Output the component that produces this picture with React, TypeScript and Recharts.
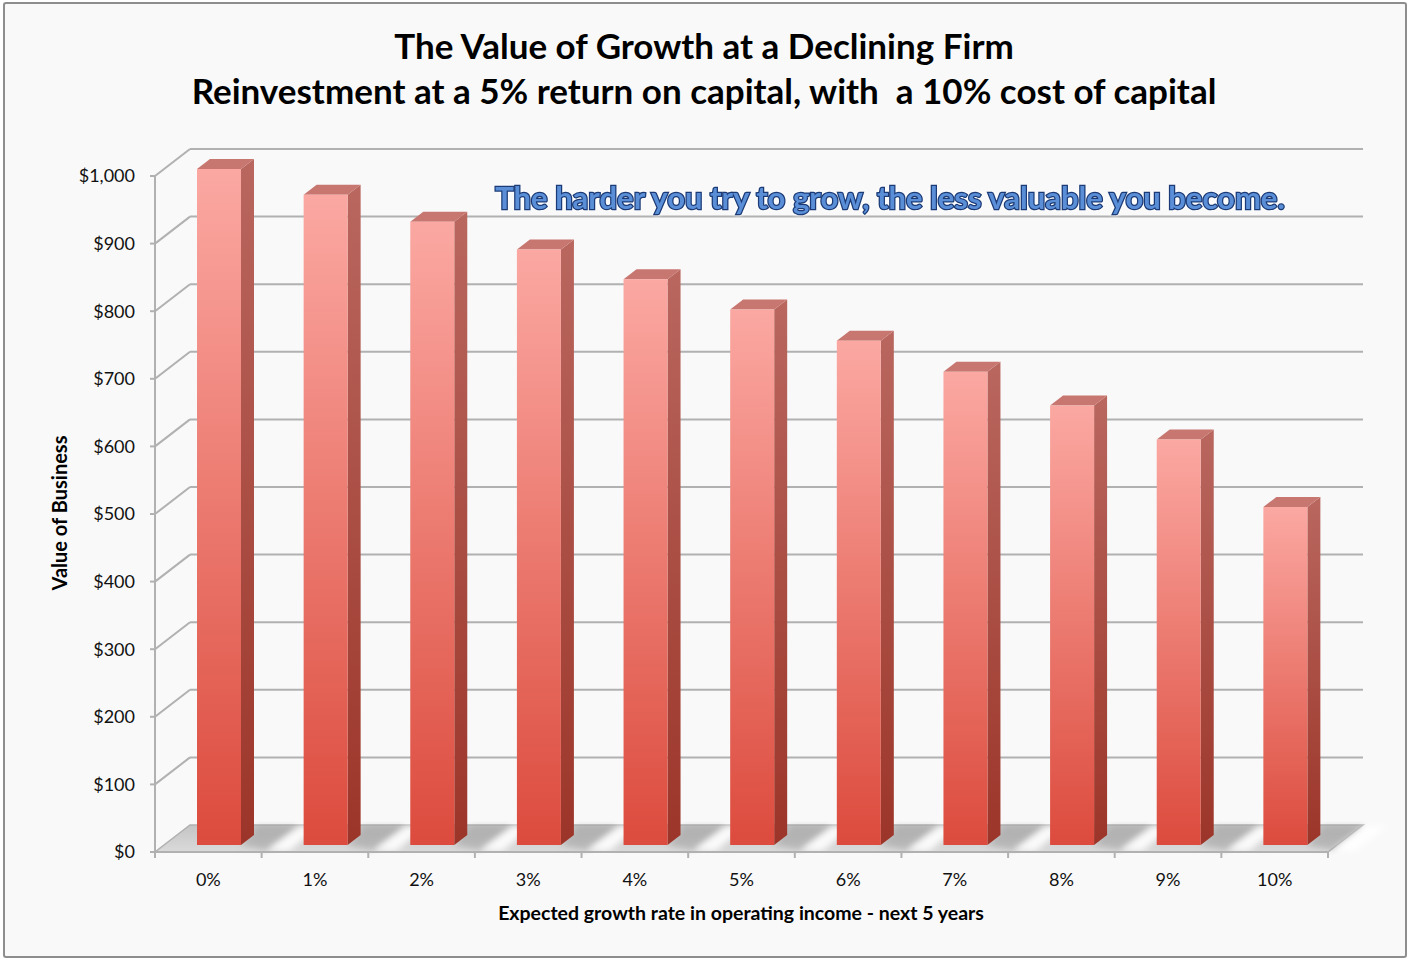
import React from "react";
import { BarChart, Bar, XAxis, YAxis, CartesianGrid } from "recharts";

// growth rate categories and the value of the business at each one
const GROWTH_RATES = ["0%", "1%", "2%", "3%", "4%", "5%", "6%", "7%", "8%", "9%", "10%"];
const BUSINESS_VALUES = [1000, 962, 922, 881, 837, 792, 746, 700, 650, 600, 500];
const VALUE_TICKS = [0, 100, 200, 300, 400, 500, 600, 700, 800, 900, 1000];

const TITLE_LINE_1 = "The Value of Growth at a Declining Firm";
const TITLE_LINE_2 = "Reinvestment at a 5% return on capital, with\u00a0 a 10% cost of capital";
const NOTE = "The harder you try to grow, the less valuable you become.";
const X_TITLE = "Expected growth rate in operating income - next 5 years";
const Y_TITLE = "Value of Business";

const data = GROWTH_RATES.map((rate, i) => ({ rate, value: BUSINESS_VALUES[i] }));

const W = 1408;
const H = 960;
const MARGIN = { top: 176, right: 80, bottom: 68, left: 0 };
const Y_AXIS_W = 155;
const X_AXIS_H = 40;
const BAND = (W - MARGIN.left - MARGIN.right - Y_AXIS_W) / GROWTH_RATES.length;

// fake 3D: back wall offset, bar offset into the floor, bar depth
const DEPTH_X = 35;
const DEPTH_Y = -27;
const BAR_DX = 11;
const BAR_DY = -7;
const SIDE_X = 13;
const SIDE_Y = -10;

const GRID = "#b1b1b1";
const FONT = "Lato, Carlito, Calibri, 'Open Sans', sans-serif";

const pts = (arr: number[][]) => arr.map((p) => p.join(",")).join(" ");

// horizontal grid: line on the back wall + slanted connector, floor for the 0 line
const gridLine = (props: any) => {
  const { x1, x2, y1, index } = props;
  const key = `grid-${index}`;
  if (index === 0) {
    return (
      <g key={key}>
        <polygon
          points={pts([
            [x1, y1],
            [x2, y1],
            [x2 + DEPTH_X, y1 + DEPTH_Y],
            [x1 + DEPTH_X, y1 + DEPTH_Y],
          ])}
          fill="url(#floorFill)"
          stroke={GRID}
          strokeWidth={1.5}
        />
      </g>
    );
  }
  return (
    <g key={key}>
      <line x1={x1 + DEPTH_X} x2={x2 + DEPTH_X} y1={y1 + DEPTH_Y} y2={y1 + DEPTH_Y} stroke={GRID} strokeWidth={2} />
      <line x1={x1} x2={x1 + DEPTH_X} y1={y1} y2={y1 + DEPTH_Y} stroke={GRID} strokeWidth={2} />
    </g>
  );
};

const Bar3D = (props: any) => {
  const { x, y, width, height } = props;
  const fx = x + BAR_DX;
  const top = y + BAR_DY;
  const bot = y + height + BAR_DY;
  const r = fx + width;
  const floorFront = bot - BAR_DY;
  const floorBack = floorFront + DEPTH_Y;
  return (
    <g>
      {/* shadow on the floor behind the bar */}
      <polygon
        points={pts([
          [r, bot],
          [r + 26, floorFront - 2],
          [r + 58, floorBack + 1],
          [r + SIDE_X + 4, floorBack + 1],
        ])}
        fill="#9a9a9a"
        opacity={0.5}
        filter="url(#soft)"
      />
      {/* light streak on the floor */}
      <polygon
        points={pts([
          [r + 26, floorFront - 1],
          [r + 48, floorFront - 1],
          [r + 80, floorBack + 1],
          [r + 58, floorBack + 1],
        ])}
        fill="#ffffff"
        opacity={0.9}
        filter="url(#soft)"
      />
      <polygon
        points={pts([
          [r, top],
          [r + SIDE_X, top + SIDE_Y],
          [r + SIDE_X, bot + SIDE_Y],
          [r, bot],
        ])}
        fill="url(#barSide)"
      />
      <polygon
        points={pts([
          [fx, top],
          [fx + SIDE_X, top + SIDE_Y],
          [r + SIDE_X, top + SIDE_Y],
          [r, top],
        ])}
        fill="#c77670"
      />
      <rect x={fx} y={top} width={width} height={bot - top} fill="url(#barFront)" />
    </g>
  );
};

const XTick = (props: any) => {
  const { x, y, payload, index } = props;
  const left = x - BAND / 2;
  return (
    <g>
      <line x1={left} x2={left} y1={y} y2={y + 6} stroke={GRID} strokeWidth={2} />
      {index === GROWTH_RATES.length - 1 && (
        <line x1={left + BAND} x2={left + BAND} y1={y} y2={y + 6} stroke={GRID} strokeWidth={2} />
      )}
      <text x={x} y={y + 34} textAnchor="middle" fontSize={18} fontFamily={FONT} fill="#111">
        {payload.value}
      </text>
    </g>
  );
};

export default function App() {
  return (
    <div style={{ position: "relative", width: W, height: H, background: "#fff" }}>
      <style>{"body{margin:0}"}</style>
      <svg width={0} height={0} style={{ position: "absolute" }}>
        <defs>
          <linearGradient id="barFront" x1="0" y1="0" x2="0" y2="1">
            <stop offset="0%" stopColor="#fba8a2" />
            <stop offset="100%" stopColor="#dc4b3d" />
          </linearGradient>
          <linearGradient id="barSide" x1="0" y1="0" x2="0" y2="1">
            <stop offset="0%" stopColor="#b9675f" />
            <stop offset="100%" stopColor="#9c3529" />
          </linearGradient>
          <linearGradient id="floorFill" x1="0" y1="0" x2="0" y2="1">
            <stop offset="0%" stopColor="#c4c4c4" />
            <stop offset="100%" stopColor="#dadada" />
          </linearGradient>
          <filter id="soft" x="-20%" y="-20%" width="140%" height="140%">
            <feGaussianBlur stdDeviation="3" />
          </filter>
        </defs>
      </svg>
      <div
        style={{
          position: "absolute",
          left: 3,
          top: 2,
          width: 1404,
          height: 956,
          boxSizing: "border-box",
          border: "2px solid #8e8e8e",
          borderRadius: 3,
          background: "#f9f9f9",
        }}
      />
      <div style={{ position: "absolute", left: 0, top: 0 }}>
        <BarChart width={W} height={H} data={data} margin={MARGIN} barSize={44}>
          <CartesianGrid horizontal={gridLine} vertical={false} />
          <XAxis
            dataKey="rate"
            height={X_AXIS_H}
            axisLine={{ stroke: GRID, strokeWidth: 2 }}
            tickLine={false}
            tickSize={0}
            tickMargin={0}
            tick={<XTick />}
            interval={0}
          />
          <YAxis
            width={Y_AXIS_W}
            domain={[0, 1000]}
            ticks={VALUE_TICKS}
            interval={0}
            axisLine={{ stroke: GRID, strokeWidth: 2 }}
            tickLine={{ stroke: GRID, strokeWidth: 2 }}
            tickSize={5}
            tickMargin={15}
            tick={{ fontSize: 18, fontFamily: FONT, fill: "#111" }}
            tickFormatter={(v: number) => `$${v.toLocaleString("en-US")}`}
          />
          <Bar dataKey="value" shape={<Bar3D />} isAnimationActive={false} />
        </BarChart>
      </div>
      <svg
        width={W}
        height={H}
        style={{ position: "absolute", left: 0, top: 0, pointerEvents: "none" }}
        fontFamily={FONT}
      >
        <text x={704} y={59} textAnchor="middle" fontSize={35} fontWeight={700} fill="#000">
          {TITLE_LINE_1}
        </text>
        <text x={704} y={104} textAnchor="middle" fontSize={35} fontWeight={700} fill="#000">
          {TITLE_LINE_2}
        </text>
        <text
          x={890}
          y={209}
          textAnchor="middle"
          fontSize={31}
          fontWeight={700}
          fill="#5a8fd8"
          stroke="#1c3b76"
          strokeWidth={2.5}
          paintOrder="stroke"
          style={{ filter: "drop-shadow(0 0 2px #ffffff)" }}
        >
          {NOTE}
        </text>
        <text x={741} y={920} textAnchor="middle" fontSize={19.5} fontWeight={700} fill="#000">
          {X_TITLE}
        </text>
        <text
          x={67}
          y={513}
          textAnchor="middle"
          fontSize={20}
          fontWeight={700}
          fill="#000"
          transform="rotate(-90 67 513)"
        >
          {Y_TITLE}
        </text>
      </svg>
    </div>
  );
}
